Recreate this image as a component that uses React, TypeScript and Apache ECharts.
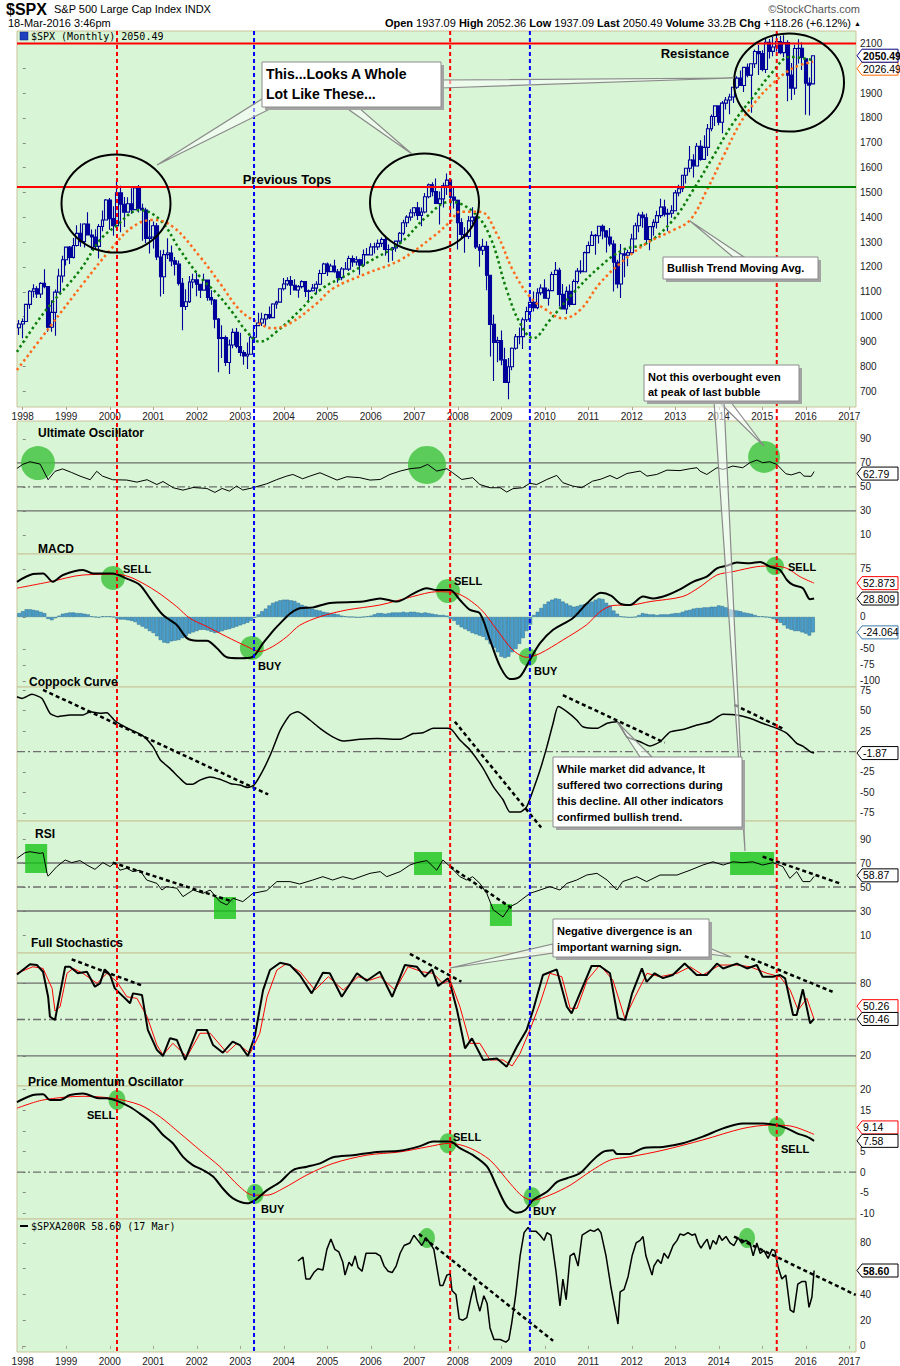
import React, { useEffect, useRef } from "react";
import * as echarts from "echarts";

// ===================== DATA =====================
// x unit: months since Jan 1998 (0 = Jan 1998)
const firstMonth = -1; // Dec 1997
const spxOpen = [
  955.4,
  970.4, 980.3, 1049.3, 1101.8, 1111.8, 1090.8, 1133.8, 1120.7, 957.3, 1017.0, 1098.7, 1163.6,
  1229.2, 1279.6, 1238.3, 1286.4, 1335.2, 1301.8, 1372.7, 1328.7, 1320.4, 1282.7, 1362.9, 1389.0,
  1469.3, 1394.5, 1366.4, 1498.6, 1452.4, 1420.6, 1454.6, 1430.8, 1517.7, 1436.5, 1429.4, 1315.0,
  1320.3, 1366.0, 1239.9, 1160.3, 1249.5, 1255.8, 1224.4, 1211.2, 1133.6, 1040.9, 1059.8, 1139.5,
  1148.1, 1130.2, 1106.7, 1147.4, 1076.9, 1067.1, 989.8, 911.6, 916.1, 815.3, 885.8, 936.3,
  879.8, 855.7, 841.2, 848.2, 916.9, 963.6, 974.5, 990.3, 1008.0, 996.0, 1050.7, 1058.2,
  1111.9, 1131.1, 1144.9, 1126.2, 1107.3, 1120.7, 1140.8, 1101.7, 1104.2, 1114.6, 1130.2, 1173.8,
  1211.9, 1181.3, 1203.6, 1180.6, 1156.9, 1191.5, 1191.3, 1234.2, 1220.3, 1228.8, 1207.0, 1249.5,
  1248.3, 1280.1, 1280.7, 1294.9, 1310.6, 1270.1, 1270.2, 1276.7, 1303.8, 1335.9, 1377.9, 1400.6,
  1418.3, 1438.2, 1406.8, 1420.9, 1482.4, 1530.6, 1503.4, 1455.3, 1473.9, 1527.0, 1549.4, 1481.1,
  1468.4, 1378.6, 1330.6, 1322.7, 1385.6, 1400.4, 1280.0, 1267.4, 1282.8, 1166.4, 968.8, 896.2,
  903.3, 825.9, 735.1, 797.9, 872.8, 919.1, 919.3, 987.5, 1020.6, 1057.1, 1036.2, 1095.6,
  1115.1, 1073.9, 1104.5, 1169.4, 1186.7, 1089.4, 1030.7, 1101.6, 1049.3, 1141.2, 1183.3, 1180.6,
  1257.6, 1286.1, 1327.2, 1325.8, 1363.6, 1345.2, 1320.6, 1292.3, 1218.9, 1131.4, 1253.3, 1246.9,
  1257.6, 1312.4, 1365.7, 1408.5, 1397.9, 1310.3, 1362.2, 1379.3, 1406.6, 1440.7, 1412.2, 1416.2,
  1426.2, 1498.1, 1514.7, 1569.2, 1597.6, 1630.7, 1606.3, 1685.7, 1633.0, 1681.6, 1756.5, 1805.8,
  1848.4, 1782.6, 1859.5, 1872.3, 1884.0, 1923.6, 1960.2, 1930.7, 2003.4, 1972.3, 2018.1, 2067.6,
  2058.9, 1995.0, 2104.5, 2067.9, 2085.5, 2107.4, 2063.1, 2103.8, 1972.2, 1920.0, 2079.4, 2080.4,
  2038.2, 1940.2, 1937.1,
];
const spxHigh = [
  986.2,
  992.7, 1050.0, 1105.7, 1130.5, 1122.1, 1138.5, 1190.6, 1121.6, 1066.1, 1109.0, 1192.9, 1244.9,
  1280.0, 1283.8, 1316.6, 1368.0, 1375.4, 1376.0, 1420.3, 1350.5, 1351.3, 1373.2, 1427.2, 1473.4,
  1478.0, 1444.6, 1552.9, 1527.2, 1481.5, 1480.8, 1517.3, 1525.2, 1530.1, 1454.8, 1438.5, 1389.1,
  1383.4, 1376.4, 1267.4, 1269.3, 1315.9, 1286.6, 1239.8, 1226.3, 1155.4, 1110.6, 1163.4, 1173.0,
  1176.6, 1130.2, 1173.0, 1147.8, 1106.6, 1070.6, 994.5, 965.0, 924.0, 907.4, 951.6, 954.3,
  935.1, 864.6, 895.9, 924.2, 965.4, 1015.3, 1015.4, 1011.0, 1040.3, 1053.8, 1063.7, 1112.6,
  1155.4, 1158.9, 1163.2, 1150.6, 1127.7, 1146.3, 1140.8, 1109.0, 1131.5, 1142.1, 1188.5, 1217.3,
  1217.8, 1212.4, 1229.1, 1191.9, 1199.6, 1219.6, 1245.2, 1245.9, 1243.1, 1233.3, 1270.6, 1275.8,
  1294.9, 1297.6, 1310.9, 1318.2, 1326.7, 1290.7, 1280.4, 1306.7, 1340.3, 1389.5, 1407.9, 1431.8,
  1441.6, 1461.6, 1438.9, 1498.0, 1535.6, 1540.6, 1555.9, 1503.9, 1538.7, 1576.1, 1552.8, 1523.6,
  1471.8, 1396.0, 1359.7, 1404.6, 1440.2, 1404.1, 1292.2, 1313.2, 1303.0, 1167.0, 1007.5, 918.9,
  943.9, 875.0, 832.9, 875.6, 930.2, 956.2, 996.7, 1039.5, 1080.2, 1101.4, 1113.7, 1130.4,
  1150.5, 1112.4, 1180.2, 1219.8, 1197.0, 1131.2, 1120.9, 1129.2, 1148.9, 1196.1, 1227.1, 1262.6,
  1302.7, 1344.1, 1332.3, 1364.6, 1370.6, 1345.2, 1356.5, 1307.4, 1229.3, 1292.7, 1277.6, 1269.4,
  1333.5, 1378.0, 1419.2, 1422.4, 1415.3, 1363.5, 1391.7, 1426.7, 1474.5, 1470.9, 1434.3, 1448.0,
  1509.9, 1530.9, 1570.3, 1597.6, 1687.2, 1654.2, 1698.8, 1709.7, 1729.9, 1775.2, 1813.6, 1849.4,
  1850.8, 1867.9, 1884.0, 1897.3, 1924.0, 1968.2, 1991.4, 2005.0, 2019.3, 2018.2, 2075.8, 2093.6,
  2072.4, 2119.6, 2117.5, 2125.9, 2134.7, 2129.9, 2132.8, 2112.7, 2021.0, 2094.3, 2116.5, 2104.3,
  2038.2, 1963.0, 2052.4,
];
const spxLow = [
  925.6,
  912.8, 980.3, 1032.1, 1076.7, 1074.4, 1074.4, 1114.3, 939.0, 939.0, 923.3, 1098.7, 1136.9,
  1205.5, 1211.9, 1234.0, 1282.6, 1281.4, 1278.3, 1328.7, 1268.4, 1268.4, 1233.7, 1343.4, 1387.4,
  1350.1, 1325.1, 1346.6, 1339.4, 1361.1, 1420.6, 1413.9, 1430.8, 1419.4, 1305.8, 1294.9, 1254.1,
  1274.6, 1228.3, 1081.2, 1091.1, 1232.0, 1203.0, 1165.5, 1124.9, 944.8, 1026.8, 1054.3, 1114.5,
  1081.7, 1074.4, 1106.7, 1063.5, 1048.0, 952.9, 775.7, 833.4, 800.6, 768.6, 872.6, 872.6,
  840.3, 806.3, 788.9, 847.9, 902.8, 963.6, 962.1, 960.8, 990.4, 996.0, 1031.2, 1058.2,
  1105.1, 1124.4, 1087.2, 1107.2, 1076.3, 1113.3, 1078.8, 1060.7, 1101.3, 1090.2, 1127.6, 1173.8,
  1163.8, 1180.1, 1176.9, 1136.2, 1146.2, 1188.3, 1183.6, 1201.1, 1205.4, 1168.2, 1201.1, 1246.6,
  1245.7, 1253.6, 1268.4, 1280.7, 1245.3, 1219.3, 1224.5, 1261.3, 1290.9, 1327.1, 1360.9, 1385.9,
  1403.9, 1389.4, 1363.9, 1416.4, 1476.7, 1484.2, 1454.3, 1370.6, 1439.3, 1489.6, 1406.1, 1435.7,
  1270.1, 1316.8, 1256.9, 1312.2, 1373.1, 1272.0, 1200.4, 1248.5, 1106.4, 839.8, 741.0, 815.7,
  804.2, 734.5, 666.8, 783.9, 866.1, 888.9, 869.3, 978.5, 991.0, 1020.2, 1029.4, 1085.9,
  1071.6, 1044.5, 1104.5, 1169.4, 1040.8, 1028.3, 1010.9, 1039.7, 1049.3, 1131.9, 1173.0, 1180.6,
  1257.6, 1286.1, 1249.1, 1294.7, 1311.8, 1258.1, 1282.9, 1101.5, 1114.2, 1074.8, 1158.7, 1202.4,
  1257.6, 1312.4, 1340.0, 1357.4, 1291.0, 1266.7, 1325.4, 1354.7, 1396.6, 1403.3, 1343.4, 1398.1,
  1426.2, 1485.0, 1501.5, 1536.0, 1581.3, 1560.3, 1604.6, 1627.5, 1633.0, 1646.5, 1746.2, 1767.9,
  1770.5, 1737.9, 1834.4, 1814.4, 1859.8, 1916.0, 1930.7, 1904.8, 1964.0, 1820.7, 2001.0, 1972.6,
  1988.1, 1980.9, 2039.7, 2048.4, 2067.9, 2056.3, 2044.0, 1867.0, 1871.9, 1893.7, 2019.4, 1993.3,
  1812.3, 1810.1, 1937.1,
];
const spxClose = [
  970.4,
  980.3, 1049.3, 1101.8, 1111.8, 1090.8, 1133.8, 1120.7, 957.3, 1017.0, 1098.7, 1163.6, 1229.2,
  1279.6, 1238.3, 1286.4, 1335.2, 1301.8, 1372.7, 1328.7, 1320.4, 1282.7, 1362.9, 1389.0, 1469.3,
  1394.5, 1366.4, 1498.6, 1452.4, 1420.6, 1454.6, 1430.8, 1517.7, 1436.5, 1429.4, 1315.0, 1320.3,
  1366.0, 1239.9, 1160.3, 1249.5, 1255.8, 1224.4, 1211.2, 1133.6, 1040.9, 1059.8, 1139.5, 1148.1,
  1130.2, 1106.7, 1147.4, 1076.9, 1067.1, 989.8, 911.6, 916.1, 815.3, 885.8, 936.3, 879.8,
  855.7, 841.2, 848.2, 916.9, 963.6, 974.5, 990.3, 1008.0, 996.0, 1050.7, 1058.2, 1111.9,
  1131.1, 1144.9, 1126.2, 1107.3, 1120.7, 1140.8, 1101.7, 1104.2, 1114.6, 1130.2, 1173.8, 1211.9,
  1181.3, 1203.6, 1180.6, 1156.9, 1191.5, 1191.3, 1234.2, 1220.3, 1228.8, 1207.0, 1249.5, 1248.3,
  1280.1, 1280.7, 1294.9, 1310.6, 1270.1, 1270.2, 1276.7, 1303.8, 1335.9, 1377.9, 1400.6, 1418.3,
  1438.2, 1406.8, 1420.9, 1482.4, 1530.6, 1503.4, 1455.3, 1473.9, 1527.0, 1549.4, 1481.1, 1468.4,
  1378.6, 1330.6, 1322.7, 1385.6, 1400.4, 1280.0, 1267.4, 1282.8, 1166.4, 968.8, 896.2, 903.3,
  825.9, 735.1, 797.9, 872.8, 919.1, 919.3, 987.5, 1020.6, 1057.1, 1036.2, 1095.6, 1115.1,
  1073.9, 1104.5, 1169.4, 1186.7, 1089.4, 1030.7, 1101.6, 1049.3, 1141.2, 1183.3, 1180.6, 1257.6,
  1286.1, 1327.2, 1325.8, 1363.6, 1345.2, 1320.6, 1292.3, 1218.9, 1131.4, 1253.3, 1246.9, 1257.6,
  1312.4, 1365.7, 1408.5, 1397.9, 1310.3, 1362.2, 1379.3, 1406.6, 1440.7, 1412.2, 1416.2, 1426.2,
  1498.1, 1514.7, 1569.2, 1597.6, 1630.7, 1606.3, 1685.7, 1633.0, 1681.6, 1756.5, 1805.8, 1848.4,
  1782.6, 1859.5, 1872.3, 1884.0, 1923.6, 1960.2, 1930.7, 2003.4, 1972.3, 2018.1, 2067.6, 2058.9,
  1995.0, 2104.5, 2067.9, 2085.5, 2107.4, 2063.1, 2103.8, 1972.2, 1920.0, 2079.4, 2080.4, 2043.9,
  1940.2, 1932.2, 2050.5,
];

// moving averages [month, value]
const maFast = [[-1.6,858],[5.7,1013],[15.8,1187],[21.3,1308],[25.5,1362],[32.3,1429],[37.9,1389],[43.4,1268],[48.9,1160],[53.5,1094],[58,1014],[61.8,939],[65.4,899],[70,939],[76.5,1026],[82,1107],[90.3,1175],[94.9,1216],[104.1,1296],[111.4,1402],[117.9,1462],[124.2,1422],[128.9,1322],[133.5,1107],[137.2,973],[140.8,913],[145.4,986],[151.8,1094],[159.2,1201],[165.5,1268],[172.1,1296],[179.4,1389],[184.9,1509],[190.4,1643],[195.9,1778],[201.5,1885],[206.9,1986],[211.7,2046],[218,2033]];
const maSlow = [[-1.6,785],[7.5,959],[16.7,1134],[24.1,1268],[30.4,1362],[35.9,1389],[41.4,1362],[48.9,1241],[54.4,1134],[59.9,1026],[64.5,979],[69,953],[73.7,973],[81.1,1053],[85.6,1113],[94.9,1174],[104.1,1228],[113.2,1322],[117.9,1382],[120.6,1422],[126.1,1422],[130.7,1335],[135.2,1187],[139.9,1080],[144.5,1026],[149,993],[153.7,1026],[159.2,1134],[164.8,1214],[172.1,1295],[179.4,1348],[184.1,1389],[188.7,1509],[193.2,1643],[197.9,1778],[202.5,1872],[206.9,1939],[212.4,2000],[218,2026]];
const resistanceLevel = 2100;
const prevTopsLevel = 1522;
const prevTopsBreakMonth = 182.7;

const uo = [[-1.6,65.4],[0,68.8],[2,71],[4.8,69],[7,56],[8.9,63],[11,65],[13.5,62],[15.8,59],[18.6,56],[20.4,63],[22,59],[24.8,56],[28.7,55.7],[31.5,54],[34.3,56],[37,52],[38.7,54.5],[41.5,49.3],[44.2,47.3],[47,49.5],[50.8,48.7],[53,45.4],[55,48.7],[57,46.5],[59,50.7],[60.7,47.4],[63.5,49.3],[67.3,52.6],[70,56],[72.8,59],[74.5,60.4],[77.2,56.8],[79.2,59],[82,61.8],[86.7,55.7],[89.4,58.5],[93,57.7],[95.8,55.7],[98.6,56.2],[101.3,60.4],[104.1,63.2],[106.8,65.2],[109.6,66],[111.7,68.8],[114.2,63.2],[117,65.2],[118.6,61.8],[121.1,56.2],[124.1,57.7],[126.1,52],[128.9,49.3],[131.7,49.3],[133.5,45.7],[135.2,48.5],[137.9,49.3],[139.9,53],[141.8,52],[144.6,56.2],[147.3,59.6],[149,53.5],[151.7,50.7],[154.2,49.3],[157.2,54.8],[159.5,56.5],[162,59.5],[163.9,56.8],[166.7,61.2],[170.3,63.2],[172.2,59],[174.9,60.4],[177.7,64],[181.3,63.6],[184.1,65.2],[186,66],[186.8,63.2],[188.7,60.4],[191.5,66],[193.2,64.6],[195.9,67.4],[198.6,66],[200.6,70.2],[202.5,72.4],[204.1,70.2],[206.1,71],[208,68.8],[210.5,61],[212,60],[214.4,62.3],[215.5,59],[217.5,58.8],[218.3,62.8]];

const macdLine = [[-1.6,55],[2.8,67],[5.6,68],[8.3,55],[11.1,65.6],[16.6,73.4],[19.4,68],[24.8,68],[28.7,60],[32.3,50],[35.1,29],[38.7,3],[42.5,-12.5],[45.3,-33],[48.1,-37],[50.8,-37],[53.6,-49],[56.3,-63],[59.9,-64.5],[63.2,-63],[66.3,-41],[69,-22],[71,-10],[73.7,5],[76.4,13.6],[80.1,15],[84.8,22],[93.9,24],[98.6,29],[103.2,24],[107.6,36],[111.4,45],[114.2,42],[117.9,42],[120.6,26.5],[123.4,11],[126.1,5.8],[128.9,-36],[131.7,-77.6],[134.4,-97],[137.2,-93],[139.9,-67],[142.7,-41],[146.3,-20],[151.7,-2],[155.6,21],[159.5,38],[162.4,33],[164.8,21],[167.5,18.8],[171.1,32],[173.9,29],[177.7,34],[181.3,43],[184.9,55],[188.7,63],[191.5,76],[194.2,80],[197,85],[200.6,84],[203.4,86],[206.1,78.6],[208.9,73.4],[210.8,57.8],[212.5,50],[215.2,45],[217.2,27.6],[218.3,28.8]];
const macdSignal = [[-1.6,45],[7.5,55],[16.6,65.6],[26,66.7],[30.4,60.5],[37,39.5],[42.5,16],[46.1,-2],[50.8,-15],[56.3,-31],[61.8,-46],[65.4,-54],[69,-46],[72.8,-31],[76.4,-13],[82,0.5],[89.4,11],[98.6,18.8],[107.6,32],[114.2,39.5],[119.7,37],[126.1,13.6],[130.8,-20],[135.2,-51.6],[139,-63],[142.7,-57],[149,-36],[155.6,-12],[159.2,8],[162.8,18],[168.3,19],[173,24],[182.1,32],[186.8,47],[191.5,65.6],[195.9,70.8],[202.5,78.6],[206.9,79.7],[210.8,76],[214.4,63],[218.3,52.9]];
const histStart = -1;
const macdHist = [
  6, 9, 12, 12, 11, 10, 8, 6, -3, -5, -2, 2, 5, 6, 7, 7, 6, 6, 5, 4, 1, 0, -1, 1, 1, 1, 0,
  -3, -4, -4, -5, -6, -8, -12, -15, -18, -22, -25, -30, -36, -40, -41, -38, -37, -36, -33, -30,
  -26, -24, -22, -20, -20, -21, -23, -25, -24, -22, -20, -19, -17, -15, -13, -11, -9, -6, -1, 4,
  9, 13, 18, 22, 24, 26, 27, 27, 26, 25, 22, 19, 17, 14, 13, 11, 10, 8, 7, 6, 5, 4,
  2, 1, 0, 0, -1, -1, 0, 1, 2, 4, 6, 6, 5, 6, 7, 7, 7, 8, 7, 8, 8, 7, 6, 7, 6, 5, 4, 3, 3, 2,
  -3, -6, -12, -16, -19, -22, -25, -27, -29, -31, -36, -42, -48, -55, -62, -64, -62, -55, -50, -42, -33, -22, -12,
  3, 8, 14, 20, 24, 27, 29, 28, 24, 21, 18, 16, 17, 19, 20, 22, 24, 27, 29, 28, 22, 18, 10, 5,
  1, 0, -1, -1, 0, 3, 6, 5, 4, 4, 3, 4, 4, 4, 5, 6, 6, 8, 10, 11, 13, 14, 14, 15, 15, 16, 16,
  18, 17, 15, 12, 11, 10, 9, 7, 6, 5, 3, 1, 1, 0, -1, -3, -5, -9, -13, -18, -20, -22, -22, -24, -26, -29, -24,
];

const coppock = [[-1.6,67],[-0.2,65],[2.5,70],[5.3,65],[7.5,47],[9.7,42.7],[13,44.7],[16.6,44.7],[18.6,48.8],[21.3,47],[23.2,47.6],[25.4,37.7],[28.7,29],[32.9,20],[35.9,6],[37.9,-10],[40.6,-20.6],[43.4,-33],[45.3,-40],[46.9,-40],[48.9,-35],[51.7,-31],[54.4,-34],[57.2,-39],[59.9,-41],[62.1,-44],[63.8,-41],[66.3,-22.7],[68.7,0],[71,26],[73.7,44.7],[75.9,48.8],[79.2,38.6],[82,28.4],[85.5,18],[88.4,12.9],[93,15],[97.7,16],[104.1,15],[107.7,22],[110.4,23],[113.2,28.4],[117.3,28.4],[118.5,26],[120.6,14],[123.4,2],[127,-20.6],[129.8,-43],[132.5,-59],[134.4,-74],[137.2,-74],[139,-67.6],[140.8,-47],[142.7,-22.7],[144.6,6],[146.3,34.6],[147.7,55],[150.1,48.8],[152.8,38.6],[154.5,30.4],[158.4,28.4],[161.2,34.6],[163.9,36.5],[166.7,18],[170.3,12],[173,6.7],[175.8,12],[178.6,24],[182.1,27],[186,32.5],[189.6,36.5],[193.2,45.6],[197,44.7],[200.6,40.7],[204.1,34.6],[208,28.4],[210.8,22.3],[213.5,10],[215.2,6.7],[217.2,0],[218.3,-1.87]];
const coppockTrends = [[[5.6,75.4],[67.7,-52.5]],[[119.2,36.5],[143,-93]],[[149,69],[177.1,10.8]],[[196.4,57],[210.2,27]]];

const rsi = [[-1.6,73.9],[0.6,78.6],[2,79.4],[4.8,78],[5.6,78.6],[6.7,61.4],[7,59],[9.4,67],[11.7,72.5],[13.5,70.3],[15.8,72],[17.7,68.3],[19.9,64.7],[22.1,70.3],[24.1,67],[25.4,70.3],[26.8,64],[28.7,65.6],[30.4,62.8],[32.3,64],[34.2,55.8],[37,53],[38.4,47.5],[39.7,50.3],[42.5,49],[44.2,42],[47,47.5],[49.7,44.7],[51.7,47.5],[54.4,37.8],[56.3,35],[58,40.6],[60.7,37.8],[63.5,44.7],[67.3,47],[70.1,54.5],[73.7,54.5],[76.4,52.5],[80,55.8],[82.8,58.6],[85.5,55.8],[88.3,58.6],[91.1,56.4],[95.8,61.4],[98.6,62.8],[100.4,58.6],[104.1,62.8],[106.8,68.3],[108.7,70.3],[111.5,72],[114.2,64],[115.9,72.5],[117.9,67],[120.6,58.6],[122.5,55.8],[124.1,58.6],[126.1,53],[128,44.7],[129.8,31],[132.5,25],[134.4,33.6],[136.3,36.4],[139.9,44.7],[142.7,47.5],[145.4,50.3],[148.2,47.5],[150.1,53],[152.8,55.8],[155.6,60],[158.4,61.4],[161.2,55.8],[163.9,47.5],[165.5,54.5],[169.4,58.6],[172.1,54.5],[175.8,60],[180.5,60],[184.1,64],[187.6,68.3],[190.4,71],[193.2,68.3],[195.9,71],[198.6,70.3],[201.4,71],[204.1,68.3],[206.9,70.3],[209.7,67],[211.6,57.2],[213.5,62.8],[215.2,54.5],[217.2,54.5],[218.3,58.87]];
const rsiTrends = [[[24.8,70.3],[57.9,37.8]],[[117.9,67],[134.9,32.3]],[[204.1,75.3],[225.4,53]]];

const stochK = [[-1.6,87],[2,95.4],[3.9,94.8],[5.6,89.3],[7,68.7],[7.5,52.3],[8.9,49.6],[10.3,71.5],[11.7,93.4],[13,93.4],[15.2,88],[17.7,89.3],[19.9,77],[21.3,79.7],[22.6,91.2],[24.1,86.6],[25.4,75.6],[26.8,71.5],[29.6,63.3],[30.4,71.5],[32.9,70.1],[34.5,41.4],[37,25],[38.7,20],[40.6,34.5],[42.5,33.2],[44.8,16.7],[48.1,41.4],[50.8,41.4],[52.5,29],[55.2,22.7],[57.9,31.8],[59.9,29],[62.1,20],[64,35.9],[66.3,74.2],[68.2,90.7],[71,96.7],[73.7,94.8],[76.4,86.6],[79.7,71.5],[82.8,88.5],[84.7,88],[88,68.7],[92.2,88],[94.9,81.9],[98.5,89.3],[101.9,68.7],[105.4,94.8],[108.7,93.4],[110.9,85.2],[112.9,91.2],[114.6,77.5],[117.3,83.9],[117.9,79.7],[119.8,57.8],[122,26.3],[123.9,34.5],[127,16.7],[130.8,18],[133.5,11.2],[136.3,27.6],[139,41.4],[140.8,57.8],[143.5,86.6],[147.3,91.2],[150.1,60.5],[151.4,55.1],[154.5,77],[156.9,94],[159.2,94],[162,88],[164.2,51],[166.2,49.6],[168.1,71.5],[170.8,92],[172.1,81],[174.3,88],[176.6,84],[179.3,86.6],[182.6,96],[185.9,86.6],[188.7,86.6],[191.5,96],[193.2,92],[197,96],[199.8,92],[202.5,94.8],[204.1,85.2],[206.9,85.2],[208.9,86.6],[210.3,83.9],[212.5,53.7],[213.5,53.7],[215.2,74.8],[217.2,46.9],[218.3,50.46]];
const stochD = [[-1.6,88],[2.8,93.4],[5.6,92],[8.1,75.6],[8.9,57],[10.3,60.5],[12.2,88],[13.9,92],[16.6,88],[20.5,79.7],[23.2,88],[26,81],[28.7,68.7],[31.5,67.4],[34.3,52.3],[37,29],[38.7,20.8],[41.4,30.4],[45.3,19.4],[48.9,38.7],[51.7,38.7],[56.3,22.7],[59.1,30.4],[62.7,22.2],[65.4,38.7],[67.4,68.7],[70.1,90.7],[72.8,96],[76.5,89.3],[80.6,74.2],[84.3,85.2],[88.4,74.2],[92.5,85.2],[95.8,82.4],[98.6,85.2],[102.7,74.2],[106.3,93.4],[110.1,89.3],[113.2,88],[115.9,79.7],[117.9,82.4],[120.6,60.5],[123.4,30.4],[126.1,30.4],[128.9,16.7],[132.5,16.7],[135,11.8],[137.2,22.2],[139.9,41.4],[142.7,63.3],[145.4,88],[148.7,85.2],[151,59.2],[152.9,59.2],[155.7,82.4],[159.2,94.8],[162.8,82.4],[166.1,51],[168.9,68.7],[172.2,88],[175.8,85.2],[180.5,88],[184.1,93.4],[187.6,86.6],[192.3,94.8],[197,94.8],[200.6,93.4],[205.3,88],[208.9,85.2],[211.7,74.2],[213.9,57.8],[216.3,67.4],[218.3,50.26]];
const stochTrends = [[[13.5,99.5],[33.3,77.5]],[[106.8,104],[121,81.1]],[[199.2,102.2],[223.4,72.8]]];

const pmo = [[-1.6,17],[2.8,18.7],[5.6,18.9],[7.5,17.5],[10.3,17.5],[13,18.7],[16.6,19.1],[20.5,18],[23.2,17.9],[26,17.3],[29.6,15.8],[32.3,14.2],[35.9,11.8],[38.7,9],[41.4,7],[44.2,3.7],[46.9,1.7],[49.7,0.5],[52.5,-1.1],[55.2,-4],[58,-6.4],[61.9,-7.6],[64.1,-6.8],[67.4,-4.4],[71,-2.4],[74.6,0.5],[78.4,1.3],[82,2.1],[85.6,3.6],[91.1,4.1],[97.7,4.9],[104.1,5.2],[109.6,6.3],[113.2,7.4],[117.9,7.4],[120.6,5.8],[124.2,4.1],[128.1,1.3],[130.8,-3.6],[133.6,-8.4],[136.3,-9.9],[138.6,-9.2],[140.8,-6.8],[144.6,-4.8],[147.4,-2.4],[150.1,-1.5],[153.7,-0.3],[157.3,2.9],[160.1,4.9],[162.8,5.3],[163.9,4.4],[167.5,4.4],[171.1,5.8],[176.6,6.1],[182.1,7],[187.6,8.6],[193.2,10.6],[198.7,11.8],[204.2,11.8],[208,11.4],[210.8,10.6],[213.6,9.4],[216.3,8.6],[218.3,7.58]];
const pmoSignal = [[-1.6,15.5],[5.6,17.5],[16.6,18.4],[24.9,17.9],[32.3,16.3],[37.9,13.4],[43.4,9.4],[48.9,5.3],[54.4,1.3],[59.9,-3.6],[63.5,-5.6],[67.4,-5.6],[71.8,-4],[78.4,-0.7],[85.6,2.1],[94.9,4.1],[104.1,4.9],[111.5,6.1],[117.9,7],[123.4,5.8],[128.9,2.9],[134.4,-2.7],[138,-6],[140.8,-6.8],[145.4,-5.6],[151,-3.2],[156.5,0.1],[162,2.9],[167.5,3.7],[176.6,5.3],[187.6,7.8],[198.7,10.6],[206.1,11.4],[211.7,11.2],[218.3,9.14]];

const spxa200r = [[75.9,66],[77.3,69],[78.1,52],[79.2,52],[80.3,57],[81.4,60],[82.8,59],[83.9,75],[85,83],[86.1,75],[87.2,73],[88.3,65],[88.9,55],[90,65],[90.8,62],[91.7,70],[92.5,61],[93.6,58],[94.7,72],[95.8,72],[97.4,72],[98.6,70],[99.7,62],[100.8,58],[101.9,57],[103,62],[104.1,72],[105.2,78],[106.8,80],[107.9,86],[109,82],[110.1,78],[111.2,84],[112.3,80],[113.4,75],[114.3,60],[115.1,47],[115.9,47],[117,55],[117.9,56],[118.4,43],[119.5,40],[120.4,21],[121.4,20],[122.5,22],[123.7,38],[124.5,47],[125.3,35],[126.1,27],[127.2,39],[128.1,33],[128.9,14],[130,5],[131.7,5],[133.3,3],[134.1,5],[134.9,18],[136,40],[137.2,70],[138.3,88],[139.4,92],[140.2,89],[141.6,89],[142.7,86],[143.8,82],[144.6,88],[145.7,86],[147.1,58],[148.2,31],[149,52],[149.9,36],[151,70],[152.1,72],[153.2,62],[154.3,86],[155.4,88],[156.5,90],[157.6,89],[158.7,91],[159.5,88],[160.9,70],[162.3,45],[164.2,17],[164.8,42],[165.9,44],[167,54],[168.1,70],[169.2,80],[170.3,82],[171.1,85],[171.9,70],[173.6,55],[174.1,62],[175.2,67],[176.1,64],[176.9,72],[178,68],[179.4,78],[180.5,82],[181.3,87],[182.4,86],[183.5,88],[184.6,86],[185.5,87],[186.3,80],[187.1,76],[188,80],[188.8,83],[189.6,75],[190.4,82],[191.3,79],[192.1,86],[192.9,82],[194,85],[195.1,80],[196.2,78],[197.3,84],[198.4,80],[199.5,82],[200.6,80],[201.5,70],[202.5,80],[203.4,72],[204.5,74],[205.6,68],[206.7,75],[207.5,74],[208.3,62],[209.4,52],[210.5,55],[211.7,28],[212.7,26],[213.8,48],[214.9,50],[216,50],[216.9,30],[217.7,38],[218.3,58.6]];
const a200Trends = [[[109.3,87],[146.3,4]],[[196.2,85],[229.8,39.6]]];

// highlight markers [month, value]
const uoMarks = [[4.2,69.9],[111.5,68.3],[204.5,75]];
const macdMarks = [[24.9,61],[63.2,-48.4],[117.3,40.6],[139.4,-62.5],[207.5,79.7]];
const rsiMarks = [[3.7,73.75],[55.8,32.5],[111.8,69.6],[131.9,26.7],[201.2,69.6]];
const pmoMarks = [[26,17.5],[64.1,-5.3],[117.3,7],[140.5,-6.1],[208,10.9]];
const a200Marks = [[111.5,83.8],[199.8,83.8]];

// vertical signal lines (month index)
const sellMonths = [26, 117.9, 208];
const buyMonths = [63.8, 139.9];

// ticks (labels that are not hidden by last-value tags)
const yearTicks = [0,12,24,36,48,60,72,84,96,108,120,132,144,156,168,180,192,204,216,228];
const priceTicks = [700,800,900,1000,1100,1200,1300,1400,1500,1600,1700,1800,1900,2000,2100];
const priceLabels = [700,800,900,1000,1100,1200,1300,1400,1500,1600,1700,1800,1900,2100];
const uoTicks = [10,30,50,70,90];
const macdTicks = [75,0,-50,-75,-100];
const coppockTicks = [75,50,25,-25,-50,-75];
const rsiTicks = [10,30,50,70,90];
const stochTicks = [20,80];
const pmoTicks = [-10,-5,0,5,10,15,20];
const pmoLabels = [-10,-5,0,5,15,20];
const a200Ticks = [0,20,40,60,80];
const a200Labels = [0,20,40,80];

// last-value tags [panel, value, label, colour, bold, nudge]
const lastTags: any[] = [
  [0, 2026.49, "2026.49", "#ff6a00", false, 7],
  [0, 2050.49, "2050.49", "#000080", true, 0],
  [1, 62.79, "62.79", "#000000", false, 2],
  [2, 52.873, "52.873", "#ff0000", false, 0],
  [2, 28.809, "28.809", "#000000", false, 0],
  [2, -24.064, "-24.064", "#3a78a8", false, 0],
  [3, -1.87, "-1.87", "#000000", false, 0],
  [4, 58.87, "58.87", "#000000", false, -1],
  [5, 50.26, "50.26", "#ff0000", false, -13],
  [5, 50.46, "50.46", "#000000", false, 0],
  [6, 9.14, "9.14", "#ff0000", false, -7],
  [6, 7.58, "7.58", "#000000", false, 0],
  [7, 58.6, "58.60", "#000000", true, 0],
];

// ===================== LAYOUT / STYLE =====================
const XMIN = -1.586;
const XMAX = 229.86;
const BG = "#d8f5d5";
const BORDER = "#c9c49a";
const NAVY = "#00009a";
const FONT = '"Liberation Sans", Arial, sans-serif';
const MONO = '"DejaVu Sans Mono", monospace';

const PANELS = [
  { top: 31, height: 376, min: 636, max: 2150, ticks: priceTicks, labels: priceLabels },
  { top: 421, height: 133, min: -6, max: 105, ticks: uoTicks, labels: uoTicks },
  { top: 554, height: 133, min: -109.4, max: 98.4, ticks: macdTicks, labels: macdTicks },
  { top: 687, height: 134, min: -85, max: 79, ticks: coppockTicks, labels: coppockTicks },
  { top: 821, height: 132, min: -5, max: 105, ticks: rsiTicks, labels: rsiTicks },
  { top: 953, height: 133, min: -4.7, max: 104.7, ticks: stochTicks, labels: stochTicks },
  { top: 1086, height: 133, min: -11.4, max: 20.9, ticks: pmoTicks, labels: pmoLabels },
  { top: 1219, height: 133, min: -4.7, max: 98.6, ticks: a200Ticks, labels: a200Labels },
];

function buildOption() {
  const grid = PANELS.map((p) => ({
    left: 17, right: 44, top: p.top, height: p.height,
    show: true, backgroundColor: BG, borderColor: BORDER, borderWidth: 1,
  }));
  const xAxis = PANELS.map((_, i) => {
    const show = i === 0 || i === 7;
    return {
      type: "value", gridIndex: i, min: XMIN, max: XMAX,
      splitLine: { show: false }, axisLine: { show: false },
      axisTick: show ? { show: true, customValues: yearTicks, length: 3, lineStyle: { color: "#aaa68a" } } : { show: false },
      axisLabel: show ? {
        show: true, customValues: yearTicks, margin: 4, fontSize: 10, color: "#222", fontFamily: FONT,
        formatter: (v: number) => String(1998 + Math.round(v / 12)),
      } : { show: false },
    };
  });
  const yAxis = PANELS.map((p, i) => ({
    type: "value", gridIndex: i, position: "right", min: p.min, max: p.max,
    splitLine: { show: false }, axisLine: { show: false },
    axisTick: { show: true, customValues: p.ticks, length: 3, lineStyle: { color: "#888" } },
    axisLabel: {
      customValues: p.labels, margin: 4, fontSize: 10, color: "#222", fontFamily: FONT,
      formatter: (v: number) => String(v),
    },
  }));

  const series: any[] = [];
  const line = (p: number, data: any, color: string, width: number, o: any = {}) =>
    series.push({
      type: "line", xAxisIndex: p, yAxisIndex: p, data, symbol: "none", silent: true,
      lineStyle: { color, width, type: o.type || "solid", cap: o.cap || "butt" },
      smooth: o.smooth || false, z: o.z || 3, clip: o.clip !== undefined ? o.clip : true,
    });
  const hline = (p: number, v: number, type: any) =>
    line(p, [[XMIN, v], [XMAX, v]], "#6e6e6e", 1.3, { type, z: 2 });
  const DASHDOT = [8, 3, 2, 3];
  const TREND = [4, 3];

  // main
  const candles = spxClose.map((c, i) => [firstMonth + i, spxOpen[i], c, spxLow[i], spxHigh[i]]);
  series.push({
    type: "candlestick", xAxisIndex: 0, yAxisIndex: 0, data: candles,
    encode: { x: 0, y: [1, 2, 3, 4] }, barWidth: 3.3, silent: true, z: 3,
    itemStyle: { color: BG, color0: NAVY, borderColor: NAVY, borderColor0: NAVY, borderWidth: 1.1 },
  });
  line(0, maFast, "#0b7d0b", 2.5, { type: [2.5, 3], smooth: 0.4, z: 4 });
  line(0, maSlow, "#ff6a1a", 2.5, { type: [2.5, 3], smooth: 0.4, z: 4 });
  line(0, [[XMIN, resistanceLevel], [XMAX, resistanceLevel]], "#ff0000", 2, { z: 5 });
  line(0, [[XMIN, prevTopsLevel], [prevTopsBreakMonth, prevTopsLevel]], "#ff0000", 2, { z: 5 });
  line(0, [[prevTopsBreakMonth, prevTopsLevel], [XMAX, prevTopsLevel]], "#008000", 2, { z: 5 });

  const marks = (p: number, data: any[], sizes: any[], symbol: string, color: string) =>
    series.push({
      type: "scatter", xAxisIndex: p, yAxisIndex: p, silent: true, symbol, z: 2,
      itemStyle: { color }, data: data.map((v, i) => ({ value: v, symbolSize: sizes[i] })),
    });

  // UO
  hline(1, 70, "solid"); hline(1, 30, "solid"); hline(1, 50, DASHDOT);
  marks(1, uoMarks, [34, 38, 32], "circle", "#3cc23a");
  line(1, uo, "#000", 1);

  // MACD
  series.push({
    type: "bar", xAxisIndex: 2, yAxisIndex: 2, silent: true, z: 1, barWidth: 3.6,
    data: macdHist.map((v, i) => [histStart + i, v]),
    itemStyle: { color: "#4a9ecb", borderColor: "#2a6a90", borderWidth: 0.5 },
  });
  marks(2, macdMarks, [24, 24, 24, 18, 18], "circle", "#3cc23a");
  line(2, macdSignal, "#ff0000", 1, { smooth: 0.3 });
  line(2, macdLine, "#000", 2, { smooth: 0.3 });

  // Coppock
  hline(3, 0, DASHDOT);
  line(3, coppock, "#000", 1.5, { smooth: 0.2 });
  coppockTrends.forEach((t) => line(3, t, "#000", 2.5, { type: TREND, clip: false, z: 4 }));

  // RSI
  hline(4, 70, "solid"); hline(4, 30, "solid"); hline(4, 50, DASHDOT);
  marks(4, rsiMarks, [[22, 29], [22, 22], [28, 23], [22, 22], [44, 23]], "rect", "#18c418");
  line(4, rsi, "#000", 1);
  rsiTrends.forEach((t) => line(4, t, "#000", 2.5, { type: TREND, clip: false, z: 4 }));

  // Stochastics
  hline(5, 80, "solid"); hline(5, 20, "solid"); hline(5, 50, DASHDOT);
  line(5, stochD, "#ff0000", 1);
  line(5, stochK, "#000", 2);
  stochTrends.forEach((t) => line(5, t, "#000", 2.5, { type: TREND, clip: false, z: 4 }));

  // PMO
  hline(6, 0, DASHDOT);
  marks(6, pmoMarks, [[17, 20], [17, 20], [17, 20], [17, 20], [17, 20]], "circle", "#3cc23a");
  line(6, pmoSignal, "#ff0000", 1, { smooth: 0.3 });
  line(6, pmo, "#000", 2, { smooth: 0.3 });

  // $SPXA200R
  marks(7, a200Marks, [[16, 20], [16, 20]], "circle", "#3cc23a");
  line(7, spxa200r, "#000", 1.5);
  a200Trends.forEach((t) => line(7, t, "#000", 2.5, { type: TREND, clip: false, z: 4 }));

  return { animation: false, backgroundColor: "#fff", grid, xAxis, yAxis, series };
}

function txt(x: number, y: number, text: string, o: any = {}) {
  return {
    type: "text", x, y, z: o.z || 70, silent: true,
    style: {
      text, fill: o.fill || "#000", fontSize: o.size || 11, fontWeight: o.bold ? "bold" : "normal",
      fontFamily: o.family || FONT, textAlign: o.align || "left", textVerticalAlign: "middle",
      rich: o.rich,
    },
  };
}

function callout(x: number, y: number, w: number, h: number, lines: string[], ys: number[], size: number) {
  const els: any[] = [
    { type: "rect", z: 80, silent: true, shape: { x: x + 3, y: y + 3, width: w, height: h }, style: { fill: "#a3a3a3" } },
    { type: "rect", z: 81, silent: true, shape: { x, y, width: w, height: h }, style: { fill: "#fff", stroke: "#8c8c8c", lineWidth: 1 } },
  ];
  lines.forEach((t, i) => els.push(txt(x + 4, ys[i], t, { bold: true, size, z: 82 })));
  return els;
}

function wedge(pts: number[][]) {
  return {
    type: "polygon", z: 79, silent: true, shape: { points: pts },
    style: { fill: "rgba(255,255,255,0.55)", stroke: "#8a8a8a", lineWidth: 1.2 },
  };
}

function ellipse(cx: number, cy: number, rx: number, ry: number) {
  return { type: "ellipse", z: 60, silent: true, shape: { cx, cy, rx, ry }, style: { fill: "none", stroke: "#000", lineWidth: 2 } };
}

function buildGraphics(chart: any) {
  const els: any[] = [];
  const px = (m: number) => chart.convertToPixel({ xAxisIndex: 0 }, m);
  const py = (i: number, v: number) => chart.convertToPixel({ yAxisIndex: i }, v);
  const top = PANELS[0].top;
  const bottom = PANELS[7].top + PANELS[7].height;
  sellMonths.forEach((m) => els.push({ type: "line", z: 50, silent: true, shape: { x1: px(m), y1: top, x2: px(m), y2: bottom }, style: { stroke: "#ff0000", lineWidth: 2, lineDash: [4, 3] } }));
  buyMonths.forEach((m) => els.push({ type: "line", z: 50, silent: true, shape: { x1: px(m), y1: top, x2: px(m), y2: bottom }, style: { stroke: "#0000ff", lineWidth: 2, lineDash: [4, 3] } }));

  // header
  els.push(txt(6, 9, "$SPX", { bold: true, size: 16 }));
  els.push(txt(54, 9, "S&P 500 Large Cap Index INDX", { size: 11 }));
  els.push(txt(860, 9, "\u00A9StockCharts.com", { size: 11, align: "right", fill: "#555" }));
  els.push(txt(8, 23, "18-Mar-2016 3:46pm", { size: 11 }));
  els.push(txt(861, 23, "{b|Open} 1937.09 {b|High} 2052.36 {b|Low} 1937.09 {b|Last} 2050.49 {b|Volume} 33.2B {b|Chg} +118.26 (+6.12%) {s|\u25B2}", {
    size: 11, align: "right",
    rich: { b: { fontWeight: "bold", fontSize: 11, fontFamily: FONT }, s: { fontSize: 7, fontFamily: FONT } },
  }));

  // panel headers
  els.push({ type: "rect", z: 70, silent: true, shape: { x: 20, y: 32, width: 8, height: 8 }, style: { fill: "#2040c0", stroke: "#002080", lineWidth: 0.5 } });
  els.push(txt(31, 36, "$SPX (Monthly) 2050.49", { family: MONO, size: 10 }));
  els.push({ type: "rect", z: 70, silent: true, shape: { x: 20, y: 1225, width: 8, height: 2 }, style: { fill: "#000" } });
  els.push(txt(31, 1226, "$SPXA200R 58.60 (17 Mar)", { family: MONO, size: 10 }));
  els.push(txt(38, 433, "Ultimate Oscillator", { bold: true, size: 12 }));
  els.push(txt(38, 549, "MACD", { bold: true, size: 12 }));
  els.push(txt(29, 682, "Coppock Curve", { bold: true, size: 12 }));
  els.push(txt(35, 834, "RSI", { bold: true, size: 12 }));
  els.push(txt(31, 943, "Full Stochastics", { bold: true, size: 12 }));
  els.push(txt(28, 1082, "Price Momentum Oscillator", { bold: true, size: 12 }));

  // buy/sell labels
  [[123, 569, "SELL"], [258, 666, "BUY"], [454, 581, "SELL"], [534, 671, "BUY"], [788, 567, "SELL"],
   [87, 1115, "SELL"], [261, 1209, "BUY"], [453, 1137, "SELL"], [533, 1211, "BUY"], [781, 1149, "SELL"]]
    .forEach(([x, y, t]: any) => els.push(txt(x, y, t, { bold: true, size: 11, z: 65 })));

  // main annotations
  els.push(ellipse(116, 203.5, 54.5, 49));
  els.push(ellipse(424.5, 202.5, 54.5, 49));
  els.push(ellipse(789, 82.5, 55, 49));
  els.push(txt(287, 179, "Previous Tops", { bold: true, size: 13, align: "center", z: 66 }));
  els.push(txt(695, 53, "Resistance", { bold: true, size: 13, align: "center", z: 66 }));

  els.push(wedge([[262, 99], [274, 107], [157, 165]]));
  els.push(wedge([[345, 107], [358, 107], [412, 154]]));
  els.push(wedge([[441, 80], [441, 88], [734, 78]]));
  els.push(...callout(262, 62, 179, 45, ["This...Looks A Whole", "Lot Like These..."], [74, 94], 14));

  els.push(wedge([[733, 257], [744, 257], [690, 221]]));
  els.push(...callout(663, 257, 155, 22, ["Bullish Trend Moving Avg."], [268], 11));

  els.push(wedge([[718, 401], [730, 401], [764, 446]]));
  els.push(wedge([[714, 401], [724, 401], [745, 851]]));
  els.push(...callout(644, 365, 155, 36, ["Not this overbought even", "at peak of last bubble"], [376.5, 392], 11));

  els.push(wedge([[640, 757], [652, 757], [617, 722]]));
  els.push(...callout(553, 757, 189, 70, ["While market did advance, It", "suffered two corrections during", "this decline. All other indicators", "confirmed bullish trend."], [769, 785, 801, 817], 11));

  els.push(wedge([[553, 944], [553, 953], [450, 968]]));
  els.push(wedge([[709, 948], [709, 954], [731, 957]]));
  els.push(...callout(553, 919, 156, 38, ["Negative divergence is an", "important warning sign."], [930.5, 946.5], 11));

  // last value tags
  lastTags.forEach(([p, v, label, color, bold, dy]: any) => {
    const y = py(p, v) + dy;
    els.push({
      type: "polygon", z: 90, silent: true,
      shape: { points: [[857, y], [862, y - 6.5], [898, y - 6.5], [898, y + 6.5], [862, y + 6.5]] },
      style: { fill: "#fff", stroke: color, lineWidth: 1 },
    });
    els.push(txt(863, y, label, { size: 10.5, bold, fill: "#000", z: 91 }));
  });
  return els;
}

export default function App() {
  const ref = useRef<HTMLDivElement>(null);
  useEffect(() => {
    if (!ref.current) return;
    const chart = echarts.init(ref.current, undefined, { renderer: "svg" });
    chart.setOption(buildOption() as any);
    chart.setOption({ graphic: { elements: buildGraphics(chart) } } as any);
    return () => chart.dispose();
  }, []);
  return (
    <div
      ref={ref}
      style={{ position: "absolute", left: 0, top: 0, width: 900, height: 1366, background: "#fff" }}
    />
  );
}
